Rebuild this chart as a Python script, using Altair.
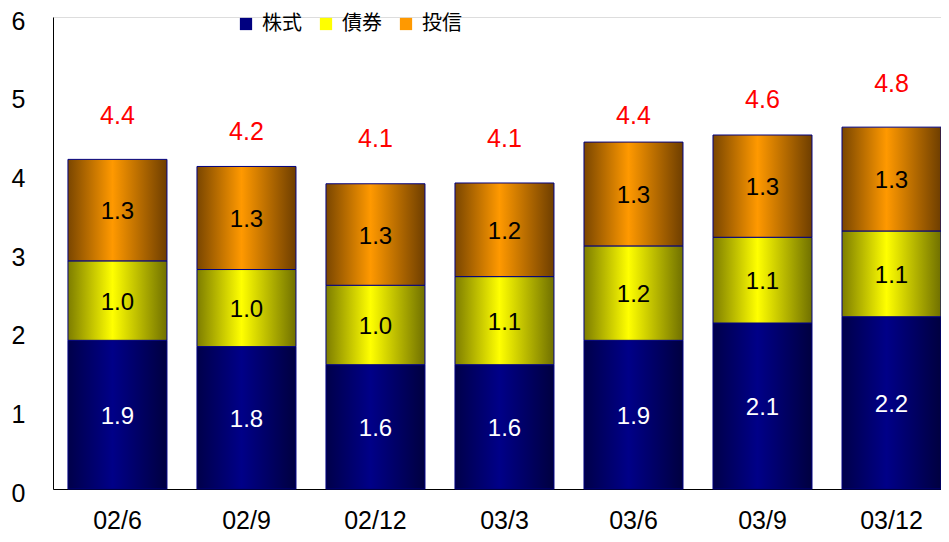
import altair as alt
import pandas as pd

periods = ["02/6", "02/9", "02/12", "03/3", "03/6", "03/9", "03/12"]
series = ["株式", "債券", "投信"]
# bar heights
stock = [1.89, 1.81, 1.58, 1.58, 1.89, 2.11, 2.19]
bond = [1.01, 0.98, 1.01, 1.12, 1.20, 1.09, 1.09]
fund = [1.29, 1.31, 1.29, 1.19, 1.32, 1.30, 1.32]
# printed labels
stock_lbl = ["1.9", "1.8", "1.6", "1.6", "1.9", "2.1", "2.2"]
bond_lbl = ["1.0", "1.0", "1.0", "1.1", "1.2", "1.1", "1.1"]
fund_lbl = ["1.3", "1.3", "1.3", "1.2", "1.3", "1.3", "1.3"]
totals = [4.4, 4.2, 4.1, 4.1, 4.4, 4.6, 4.8]
total_lbl = ["4.4", "4.2", "4.1", "4.1", "4.4", "4.6", "4.8"]

rows = []
for i, p in enumerate(periods):
    base = 0.0
    for s, vals, lbls in zip(series, [stock, bond, fund], [stock_lbl, bond_lbl, fund_lbl]):
        v = vals[i]
        rows.append({"period": p, "series": s, "lo": base, "hi": base + v,
                     "mid": base + v / 2, "label": lbls[i]})
        base += v
df = pd.DataFrame(rows)
tot_df = pd.DataFrame({"period": periods, "total": totals, "label": total_lbl})

FONT = "Liberation Sans"

def grad(dark_l, bright, dark_r):
    return alt.Gradient(gradient="linear", x1=0, x2=1, y1=0, y2=0, stops=[
        alt.GradientStop(offset=0, color=dark_l),
        alt.GradientStop(offset=0.45, color=bright),
        alt.GradientStop(offset=1, color=dark_r),
    ])

fills = {
    "株式": grad("#00004a", "#000088", "#000040"),
    "債券": grad("#7d7d00", "#ffff00", "#707000"),
    "投信": grad("#7a4600", "#ff9900", "#6e3e00"),
}
text_colors = {"株式": "white", "債券": "black", "投信": "black"}
legend_colors = ["#000080", "#ffff00", "#ff9900"]

xscale = alt.Scale(domain=periods, paddingInner=0.2326, paddingOuter=0.058, align=1)
yscale = alt.Scale(domain=[0, 6], nice=False)

x_enc = alt.X("period:N", scale=xscale, sort=periods, title=None,
              axis=alt.Axis(labelAngle=0, ticks=False, tickSize=0, labelPadding=19,
                            labelFontSize=25, labelFont=FONT, labelColor="black",
                            domainColor="black", domainWidth=1, grid=False))
y_axis = alt.Axis(values=[0, 1, 2, 3, 4, 5, 6], ticks=False, tickSize=0, labelPadding=28,
                  labelFontSize=25, labelFont=FONT, labelColor="black", labelOffset=4,
                  domainColor="black", domainWidth=1, grid=False, format="d")

base = alt.Chart(df)
layers = []
# invisible layer for the legend
layers.append(
    base.mark_bar(opacity=0).encode(
        x=x_enc,
        y=alt.Y("lo:Q", scale=yscale, axis=y_axis, title=None),
        y2="hi:Q",
        color=alt.Color("series:N", scale=alt.Scale(domain=series, range=legend_colors),
                        legend=alt.Legend(orient="none", legendX=183, legendY=-3,
                                          direction="horizontal", title=None,
                                          symbolType="square", symbolSize=150,
                                          symbolOpacity=1, symbolStrokeWidth=0,
                                          labelFont="Noto Sans CJK JP", labelFontSize=20,
                                          labelColor="black", labelOffset=6,
                                          columnPadding=14)),
    )
)
for s in series:
    layers.append(
        base.transform_filter(alt.datum.series == s).mark_bar(
            fill=fills[s], stroke="#000080", strokeWidth=1
        ).encode(x=alt.X("period:N", scale=xscale, sort=periods),
                 y=alt.Y("lo:Q", scale=yscale), y2="hi:Q")
    )
for s in series:
    layers.append(
        base.transform_filter(alt.datum.series == s).mark_text(
            font=FONT, fontSize=24, color=text_colors[s], baseline="middle", dy=2
        ).encode(x=alt.X("period:N", scale=xscale, sort=periods),
                 y=alt.Y("mid:Q", scale=yscale), text="label:N")
    )
layers.append(
    alt.Chart(tot_df).mark_text(font=FONT, fontSize=25, color="#ff0000",
                                baseline="middle", dy=-27).encode(
        x=alt.X("period:N", scale=xscale, sort=periods),
        y=alt.Y("total:Q", scale=yscale), text="label:N")
)

chart = alt.layer(*layers).properties(
    width=888, height=472,
    autosize=alt.AutoSizeParams(type="none"),
    padding={"left": 45, "top": 9, "right": 0, "bottom": 45},
).configure_view(stroke=None).configure(background="white")

chart.save("out.html", embed_options={"renderer": "svg", "actions": False})
